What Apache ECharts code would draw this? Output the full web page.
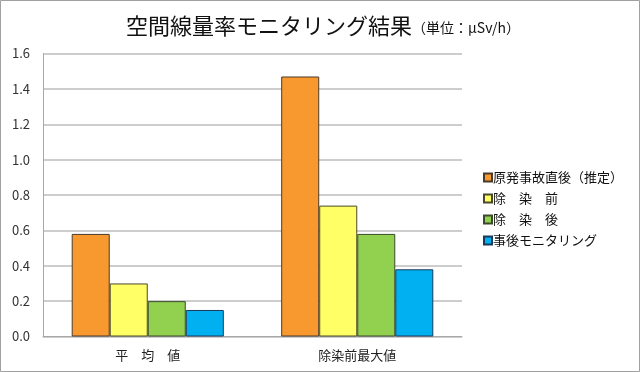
<!DOCTYPE html>
<html><head><meta charset="utf-8">
<script src="https://cdn.jsdelivr.net/npm/echarts@6/dist/echarts.min.js"></script>
<style>html,body{margin:0;padding:0;background:#fff}#c{width:640px;height:372px}</style>
</head><body><div id="c"></div>
<script>
const categories = ['平　均　値', '除染前最大値'];
const seriesNames = ['原発事故直後（推定）', '除　染　前', '除　染　後', '事後モニタリング'];
const valsAccident = [0.58, 1.47];
const valsBefore = [0.30, 0.74];
const valsAfter = [0.20, 0.58];
const valsMonitoring = [0.15, 0.38];
const yTicks = [0, 0.2, 0.4, 0.6, 0.8, 1.0, 1.2, 1.4, 1.6];

const colors = ['#F7992F', '#FFFF66', '#92D050', '#00B0F0'];
const borders = ['#4a3a2a', '#4a4a2a', '#3a4a2a', '#1a3a5a'];
const data = [valsAccident, valsBefore, valsAfter, valsMonitoring];
const font = '"Noto Sans CJK JP", sans-serif';

const chart = echarts.init(document.getElementById('c'));
chart.setOption({
  animation: false,
  textStyle: { fontFamily: font },
  graphic: [{ type: 'rect', shape: { x: 0.5, y: 0.5, width: 639, height: 371 }, style: { fill: 'none', stroke: '#a0a0a0', lineWidth: 1 } }],
  title: {
    text: '{a|空間線量率モニタリング結果}{b|（単位：μSv/h）}',
    left: 121, top: 10,
    textStyle: { rich: {
      a: { fontSize: 22, color: '#111', fontFamily: font, fontWeight: 'normal', verticalAlign: 'bottom' },
      b: { fontSize: 14, color: '#111', fontFamily: font, fontWeight: 'normal', verticalAlign: 'bottom', padding: [0,0,2,0] }
    } }
  },
  legend: {
    orient: 'vertical', left: 478, top: 166,
    itemWidth: 8, itemHeight: 8, itemGap: 8,
    icon: 'rect',
    textStyle: { fontSize: 13, color: '#111', padding: [0,0,0,-4], fontFamily: font },
    data: seriesNames
  },
  grid: { left: 43, top: 53.5, width: 419, height: 283, containLabel: false },
  xAxis: {
    type: 'category', data: categories,
    axisLine: { lineStyle: { color: '#a8a8a8', width: 1 } },
    axisTick: { show: false },
    axisLabel: { fontSize: 13, color: '#222', margin: 12 }
  },
  yAxis: {
    type: 'value', min: 0, max: 1.6, interval: 0.2,
    axisLine: { show: true, lineStyle: { color: '#a8a8a8' } },
    axisTick: { show: false },
    splitLine: { lineStyle: { color: '#bcbcbc', width: 1.5 } },
    axisLabel: { fontSize: 13, color: '#333', margin: 13, formatter: v => v.toFixed(1) }
  },
  series: seriesNames.map((n, i) => ({
    name: n, type: 'bar', data: data[i],
    barGap: '0%', barCategoryGap: '27.4%',
    itemStyle: { color: colors[i], borderColor: borders[i], borderWidth: 1 }
  }))
});
</script></body></html>
